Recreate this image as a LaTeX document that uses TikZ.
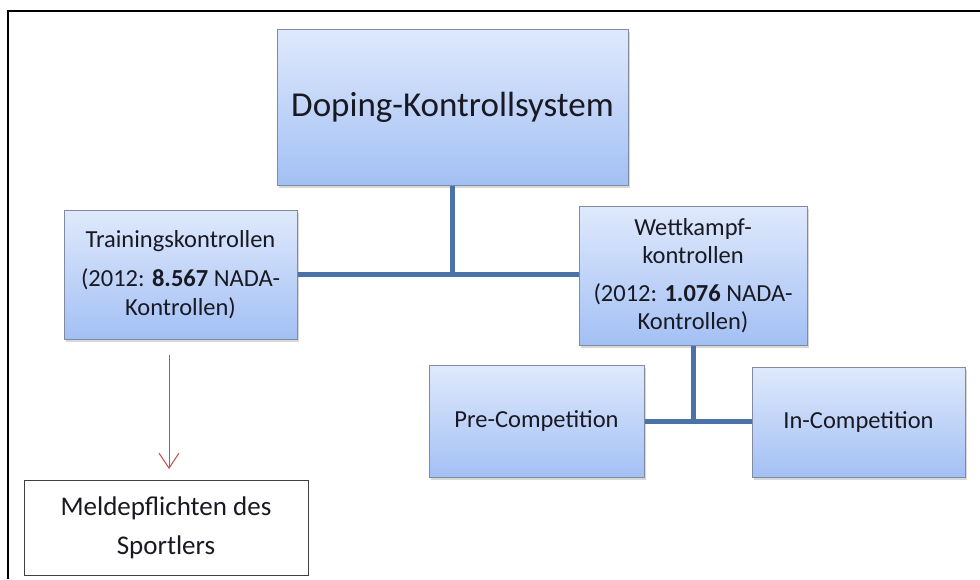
\documentclass[tikz,border=0pt]{standalone}
\usepackage{fontspec}
\setmainfont{Carlito}
\usetikzlibrary{shadows,arrows.meta}
\definecolor{boxtop}{RGB}{223,233,252}
\definecolor{boxbot}{RGB}{163,192,244}
\definecolor{boxedge}{RGB}{128,138,160}
\definecolor{conn}{RGB}{74,114,168}
\definecolor{arrowred}{RGB}{192,80,77}
\definecolor{txt}{RGB}{25,25,35}
\begin{document}
\begin{tikzpicture}[x=1pt,y=-1pt,
  bluebox/.style={draw=boxedge, line width=1pt, top color=boxtop, bottom color=boxbot,
    inner sep=0pt, align=center, text=txt, font=\fontsize{24.5}{28.5}\selectfont,
    drop shadow={opacity=0.3, shadow xshift=1.5pt, shadow yshift=-2.5pt}},
  whitebox/.style={draw=black!75, line width=1pt, fill=white, inner sep=0pt,
    align=center, text=txt, font=\fontsize{27}{33}\selectfont},
  connector/.style={draw=conn, line width=5pt},
  redarrow/.style={draw=arrowred, line width=1pt, -{Straight Barb[length=15pt,width=20pt]}}
]
\useasboundingbox (0,0) rectangle (980,579);
\fill[white] (0,0) rectangle (980,579);
\draw[line width=2pt] (8,579) -- (8,11) -- (980,11);

\node[bluebox, minimum width=351pt, minimum height=156pt, font=\fontsize{35}{40}\selectfont]
  (main) at (452.5,107) {Doping-Kontrollsystem};
\node[bluebox, minimum width=233pt, minimum height=129pt]
  (train) at (180.5,274.5) {Trainingskontrollen\\[11pt](2012: \textbf{8.567} NADA-\\Kontrollen)};
\node[bluebox, minimum width=228pt, minimum height=139pt]
  (wett) at (693,275.5) {Wettkampf-\\kontrollen\\[9pt](2012: \textbf{1.076} NADA-\\Kontrollen)};
\node[bluebox, minimum width=215pt, minimum height=112pt]
  (pre) at (536.5,421) {Pre-Competition};
\node[bluebox, minimum width=213pt, minimum height=110pt]
  (in) at (858.5,422) {In-Competition};
\node[whitebox, minimum width=284pt, minimum height=95pt]
  (meld) at (166,527.5) {Meldepflichten des\\[6pt]Sportlers};

\draw[connector] (main.south) -- (main.south |- train.east);
\draw[connector] (train.east) -- (train.east -| wett.west);
\draw[connector] (wett.south) -- (wett.south |- pre.east);
\draw[connector] (pre.east) -- (pre.east -| in.west);

\coordinate (a1) at (169,355);
\coordinate (a2) at (169,469);
\draw[redarrow] (a1) -- (a2);
\end{tikzpicture}
\end{document}
